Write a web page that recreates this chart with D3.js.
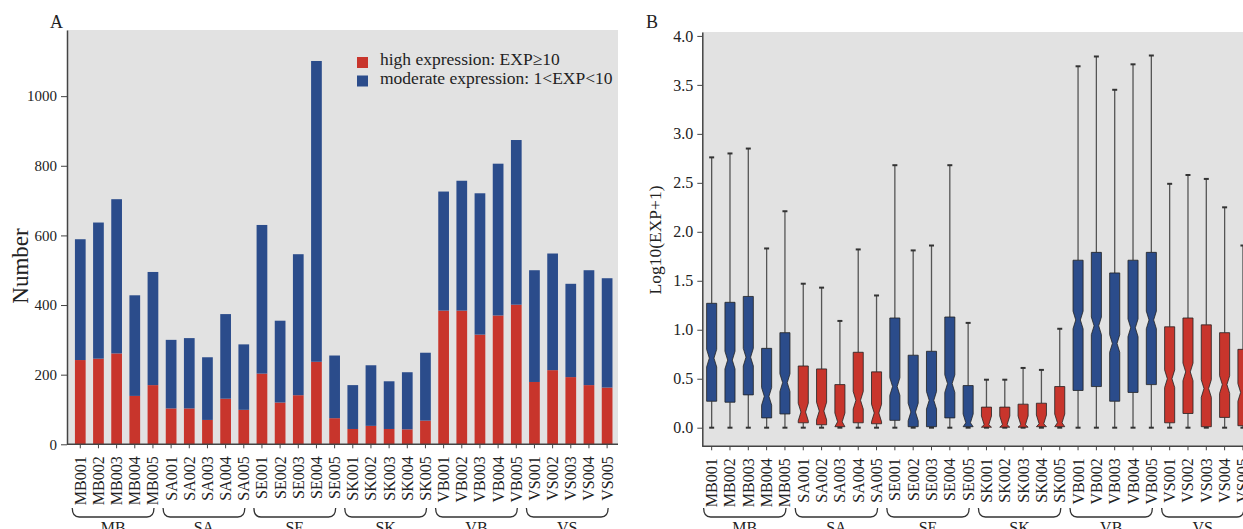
<!DOCTYPE html>
<html>
<head>
<meta charset="utf-8">
<script src="https://cdn.jsdelivr.net/npm/d3@7"></script>
<style>
  body { margin: 0; background: #fff; }
  svg text { font-family: "Liberation Serif", "Times New Roman", serif; fill: #222; }
</style>
</head>
<body>
<svg id="chart" width="1243" height="529"></svg>
<script>
// samples, 5 per group
const samples = [
  "MB001","MB002","MB003","MB004","MB005",
  "SA001","SA002","SA003","SA004","SA005",
  "SE001","SE002","SE003","SE004","SE005",
  "SK001","SK002","SK003","SK004","SK005",
  "VB001","VB002","VB003","VB004","VB005",
  "VS001","VS002","VS003","VS004","VS005"
]
const groups = ["MB","SA","SE","SK","VB","VS"]

// panel A - number of genes
const highExp = [242,246,261,139,170, 103,103,70,131,99, 203,120,141,237,75,
                 44,53,44,43,68, 384,384,315,370,401, 179,213,193,170,163]
const moderateExp = [347,391,443,289,325, 197,202,180,243,188, 427,235,405,864,180,
                     126,174,137,164,195, 342,373,406,436,473, 321,335,268,330,314]
const countTicks = [0,200,400,600,800,1000]

// panel B - log10(EXP+1) box stats
const whiskerHigh = [2.76,2.80,2.85,1.83,2.21, 1.47,1.43,1.09,1.82,1.35, 2.68,1.81,1.86,2.68,1.07,
                     0.49,0.49,0.61,0.59,1.01, 3.69,3.79,3.45,3.71,3.80, 2.49,2.58,2.54,2.25,1.86]
const q3 = [1.27,1.28,1.34,0.81,0.97, 0.63,0.60,0.44,0.77,0.57, 1.12,0.74,0.78,1.13,0.43,
            0.21,0.21,0.24,0.25,0.42, 1.71,1.79,1.58,1.71,1.79, 1.03,1.12,1.05,0.97,0.80]
const median = [0.71,0.69,0.72,0.32,0.46, 0.16,0.17,0.06,0.28,0.15, 0.42,0.16,0.28,0.45,0.05,
                0.03,0.03,0.03,0.04,0.05, 1.10,1.04,0.86,1.02,1.10, 0.50,0.57,0.40,0.44,0.36]
const q1 = [0.27,0.26,0.335,0.10,0.14, 0.05,0.03,0.01,0.05,0.04, 0.075,0.01,0.01,0.10,0.01,
            0.005,0.005,0.005,0.01,0.01, 0.38,0.42,0.27,0.36,0.44, 0.05,0.145,0.01,0.105,0.02]
const whiskerLow = [0,0,0,0,0, 0,0,0,0,0, 0,0,0,0,0, 0,0,0,0,0, 0,0,0,0,0, 0,0,0,0,0]
const logTicks = [0,0.5,1,1.5,2,2.5,3,3.5,4]

const red = "#c8352c", blue = "#2b4c8b", bg = "#e2e2e2", axisCol = "#444"
// which groups are drawn red in panel B
const redGroups = ["SA","SK","VS"]

const svg = d3.select("#chart")

function drawXLabels(g, x, axisY){
    const ax = g.append("g")
        .attr("transform", `translate(0,${axisY})`)
        .call(d3.axisBottom(x).tickSize(4).tickSizeOuter(0))
    ax.select(".domain").remove()
    ax.selectAll("line").attr("stroke", axisCol)
    ax.selectAll("text")
        .attr("x", 0).attr("y", 0).attr("dy", null)
        .attr("text-anchor", "end")
        .attr("transform", "translate(5.5,12) rotate(-90)")
        .style("font-size", "16px")
        .style("font-family", "Liberation Serif")

    // group brackets
    groups.forEach(function(gr){
        const members = samples.filter(s => s.startsWith(gr))
        const x0 = x(members[0]) + x.bandwidth()/2 - 8
        const x1 = x(members[members.length-1]) + x.bandwidth()/2 + 1
        const y0 = 508, y1 = 517
        g.append("path")
            .attr("d", `M${x0},${y0} Q${x0},${y1} ${x0+7},${y1} L${x1-7},${y1} Q${x1},${y1} ${x1},${y0}`)
            .attr("fill", "none")
            .attr("stroke", "#333")
            .attr("stroke-width", 1.3)
        g.append("text")
            .attr("x", (x0 + x1)/2)
            .attr("y", 533)
            .attr("text-anchor", "middle")
            .style("font-size", "16px")
            .text(gr)
    })
}

function drawPanelA(){
    const g = svg.append("g")
    const x = d3.scaleBand().domain(samples).range([71.2, 616.2]).paddingInner(0.41).paddingOuter(0.205)
    const y = d3.scaleLinear().domain([0, 1190]).range([444.3, 30])

    g.append("rect").attr("x", 67).attr("y", 30).attr("width", 551).attr("height", 414.3).attr("fill", bg)

    const rows = samples.map((s, i) => ({sample: s, high: highExp[i], moderate: moderateExp[i]}))
    const stack = d3.stack().keys(["high","moderate"])(rows)
    g.selectAll("g.layer")
        .data(stack)
        .enter().append("g")
        .attr("class", "layer")
        .attr("fill", d => d.key === "high" ? red : blue)
        .selectAll("rect")
        .data(d => d)
        .enter().append("rect")
        .attr("x", d => x(d.data.sample))
        .attr("width", x.bandwidth())
        .attr("y", d => y(d[1]))
        .attr("height", d => y(d[0]) - y(d[1]))

    const yAx = g.append("g")
        .attr("transform", "translate(67,0)")
        .call(d3.axisLeft(y).tickValues(countTicks).tickFormat(d3.format("d")).tickSize(6).tickPadding(4).tickSizeOuter(0))
    yAx.select(".domain").attr("stroke", axisCol).attr("stroke-width", 1.5)
    yAx.selectAll("line").attr("stroke", axisCol)
    yAx.selectAll("text").style("font-size", "15px").style("font-family", "Liberation Serif")

    g.append("line").attr("x1", 67).attr("x2", 618).attr("y1", 444.3).attr("y2", 444.3)
        .attr("stroke", axisCol).attr("stroke-width", 1.5)

    drawXLabels(g, x, 444.3)

    g.append("text")
        .attr("transform", "translate(28,266) rotate(-90)")
        .attr("text-anchor", "middle")
        .style("font-size", "23px")
        .text("Number")

    g.append("text").attr("x", 50).attr("y", 28).style("font-size", "18px").text("A")

    // legend
    const legend = [{label: "high expression: EXP\u226510", color: red},
                    {label: "moderate expression: 1<EXP<10", color: blue}]
    legend.forEach(function(d, i){
        g.append("rect").attr("x", 357).attr("y", 57 + i*18.5).attr("width", 11).attr("height", 11).attr("fill", d.color)
        g.append("text").attr("x", 380).attr("y", 65 + i*18.5).style("font-size", "17.5px").text(d.label)
    })
}

function drawPanelB(){
    const g = svg.append("g")
    const x = d3.scaleBand().domain(samples).range([702.5, 1252.1]).paddingInner(0.45).paddingOuter(0.225)
    const y = d3.scaleLinear().domain([-0.19, 4.04]).range([446.3, 32])

    g.append("rect").attr("x", 702).attr("y", 32).attr("width", 541).attr("height", 414.3).attr("fill", bg)

    const boxes = samples.map((s, i) => ({
        sample: s, hi: whiskerHigh[i], q3: q3[i], med: median[i], q1: q1[i], lo: whiskerLow[i],
        color: redGroups.includes(s.slice(0,2)) ? red : blue
    }))

    const bw = x.bandwidth()
    const cx = d => x(d.sample) + bw/2

    // whiskers
    g.selectAll("line.whisk-hi").data(boxes).enter().append("line")
        .attr("x1", cx).attr("x2", cx).attr("y1", d => y(d.hi)).attr("y2", d => y(d.q3))
        .attr("stroke", "#555").attr("stroke-width", 1.3)
    g.selectAll("line.whisk-lo").data(boxes).enter().append("line")
        .attr("x1", cx).attr("x2", cx).attr("y1", d => y(d.lo)).attr("y2", d => y(d.q1))
        .attr("stroke", "#555").attr("stroke-width", 1.3)
    // caps
    ;["hi","lo"].forEach(function(k){
        g.selectAll("line.cap-" + k).data(boxes).enter().append("line")
            .attr("x1", d => cx(d) - 2.5).attr("x2", d => cx(d) + 2.5)
            .attr("y1", d => y(d[k])).attr("y2", d => y(d[k]))
            .attr("stroke", "#333").attr("stroke-width", 2)
    })

    // notched boxes
    g.selectAll("path.box").data(boxes).enter().append("path")
        .attr("d", function(d){
            const x0 = x(d.sample), x1 = x0 + bw, inset = bw*0.27
            const nTop = Math.min(d.med + 0.09, d.q3), nBot = Math.max(d.med - 0.09, d.q1)
            return `M${x0},${y(d.q3)} L${x1},${y(d.q3)} L${x1},${y(nTop)} L${x1-inset},${y(d.med)} ` +
                   `L${x1},${y(nBot)} L${x1},${y(d.q1)} L${x0},${y(d.q1)} L${x0},${y(nBot)} ` +
                   `L${x0+inset},${y(d.med)} L${x0},${y(nTop)} Z`
        })
        .attr("fill", d => d.color)
        .attr("stroke", "#222")
        .attr("stroke-width", 0.8)

    const yAx = g.append("g")
        .attr("transform", "translate(702.3,0)")
        .call(d3.axisLeft(y).tickValues(logTicks).tickFormat(d3.format(".1f")).tickSize(5).tickPadding(4).tickSizeOuter(0))
    yAx.select(".domain").attr("stroke", axisCol).attr("stroke-width", 1.5)
    yAx.selectAll("line").attr("stroke", axisCol)
    yAx.selectAll("text").style("font-size", "16px").style("font-family", "Liberation Serif")

    g.append("line").attr("x1", 702.3).attr("x2", 1243).attr("y1", 446.3).attr("y2", 446.3)
        .attr("stroke", axisCol).attr("stroke-width", 1.5)

    drawXLabels(g, x, 446.3)

    g.append("text")
        .attr("transform", "translate(661,240) rotate(-90)")
        .attr("text-anchor", "middle")
        .style("font-size", "17.5px")
        .text("Log10(EXP+1)")

    g.append("text").attr("x", 646).attr("y", 28).style("font-size", "18px").text("B")
}

drawPanelA()
drawPanelB()
</script>
</body>
</html>
